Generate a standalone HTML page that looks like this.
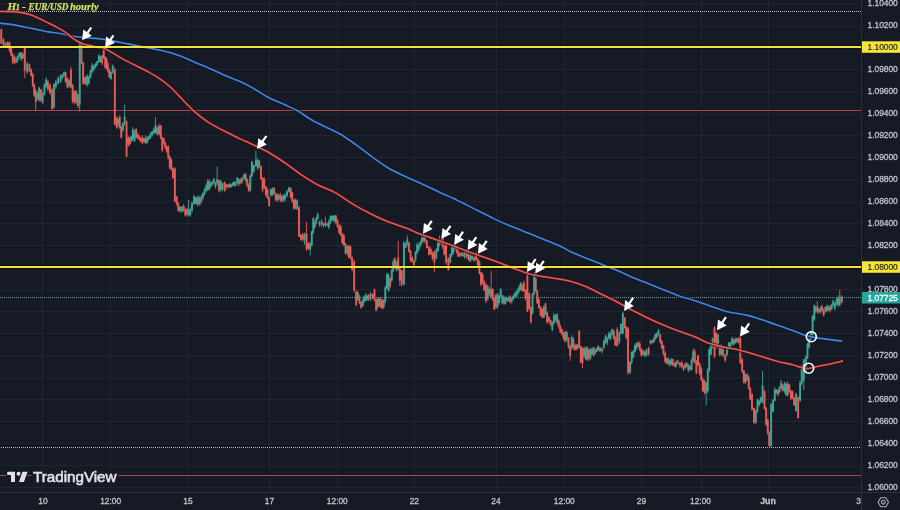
<!DOCTYPE html><html><head><meta charset="utf-8"><style>
html,body{margin:0;padding:0;background:#161a25;width:900px;height:510px;overflow:hidden}
svg{display:block;filter:blur(0.3px)}
.ax{font-family:"Liberation Sans",Arial,sans-serif;font-size:8.4px;fill:#c0c3cb;stroke:#c0c3cb;stroke-width:0.3px}
</style></head><body>
<svg width="900" height="510" viewBox="0 0 900 510">
<rect x="0" y="0" width="900" height="510" fill="#161a25"/>
<path d="M0 3.5H861 M0 25.5H861 M0 47.5H861 M0 69.5H861 M0 91.5H861 M0 113.5H861 M0 135.5H861 M0 157.5H861 M0 179.5H861 M0 201.5H861 M0 223.5H861 M0 245.5H861 M0 267.5H861 M0 289.5H861 M0 311.5H861 M0 333.5H861 M0 355.5H861 M0 377.5H861 M0 399.5H861 M0 421.5H861 M0 443.5H861 M0 465.5H861 M0 487.5H861 M42.5 0V492 M110.5 0V492 M187.5 0V492 M269.5 0V492 M337.5 0V492 M414.5 0V492 M496.5 0V492 M564.5 0V492 M641.5 0V492 M701.5 0V492 M768.5 0V492" stroke="#21252f" stroke-width="1" fill="none"/>
<path d="M0 47H861 M0 267H861" stroke="#08080a" stroke-width="4.6" fill="none" opacity="0.6"/>
<path d="M0 110.5H861 M0 475.5H861" stroke="#2a0e16" stroke-width="3" fill="none" opacity="0.6"/>
<path d="M0 110.5H861" stroke="#9e4858" stroke-width="1" fill="none"/>
<path d="M0 475.5H861" stroke="#8a5262" stroke-width="1" fill="none"/>
<path d="M0 11.5H861" stroke="#b8bac8" stroke-width="1" stroke-dasharray="1 1" fill="none"/>
<path d="M0 447.5H861" stroke="#b8bac8" stroke-width="1" stroke-dasharray="1 1" stroke-dashoffset="1" fill="none"/>
<path d="M0 297.5H861" stroke="#6a9994" stroke-width="1" stroke-dasharray="1 1" fill="none"/>
<path d="M1.25 28.5V44.2 M3.50 38.0V46.0 M7.50 41.4V46.7 M9.50 41.4V52.3 M11.25 46.9V56.3 M12.75 53.0V64.5 M14.75 55.5V64.2 M22.75 52.4V58.8 M24.75 46.0V78.0 M29.38 63.6V71.9 M31.12 68.3V76.4 M32.75 72.7V87.1 M34.25 83.7V96.9 M35.75 89.0V111.0 M40.90 89.0V102.0 M47.90 80.1V90.7 M50.00 83.3V95.1 M52.10 88.3V110.0 M65.60 71.6V83.2 M67.35 77.4V88.1 M70.90 66.8V88.5 M72.65 83.8V103.4 M74.40 90.3V104.4 M77.90 93.5V108.0 M81.45 41.5V64.1 M83.15 61.6V84.7 M85.00 76.6V85.0 M102.17 54.8V65.2 M103.75 47.0V58.7 M105.25 56.2V68.5 M106.50 57.5V69.1 M107.75 61.3V72.6 M109.25 68.4V78.2 M114.80 67.7V125.2 M116.75 116.2V128.6 M119.75 115.1V129.3 M121.25 125.9V138.5 M126.55 120.5V157.3 M128.33 135.9V146.8 M129.80 137.0V145.5 M136.17 128.2V138.3 M137.77 133.0V139.4 M139.30 134.7V140.7 M140.83 137.0V143.3 M142.40 135.1V144.1 M144.00 137.8V143.7 M159.10 123.8V135.4 M160.75 124.7V139.4 M162.25 136.7V151.9 M163.75 137.7V144.6 M165.25 141.9V149.4 M166.75 145.5V152.7 M168.25 145.1V159.4 M169.75 155.4V169.5 M171.30 158.2V170.6 M172.90 167.0V178.4 M174.85 167.4V202.2 M176.75 196.1V205.8 M178.25 202.3V211.7 M183.58 204.3V211.7 M185.31 207.3V216.6 M186.94 208.1V216.2 M199.67 195.8V205.4 M207.75 179.3V191.2 M218.88 179.6V192.6 M224.73 181.5V191.7 M226.58 184.1V188.5 M228.12 184.0V188.7 M235.75 181.8V186.5 M240.25 178.1V184.4 M245.75 172.9V182.6 M247.25 178.5V187.3 M248.75 182.9V192.0 M259.25 159.9V167.9 M260.88 165.4V180.0 M262.62 177.0V192.5 M264.30 177.0V188.9 M265.90 185.8V197.1 M267.52 188.6V199.2 M269.18 196.8V206.9 M274.17 187.1V194.8 M275.77 192.5V201.2 M277.30 193.5V201.7 M280.33 192.7V202.2 M281.80 195.5V202.0 M290.75 187.5V198.5 M292.30 191.9V202.8 M293.90 198.7V210.0 M295.52 198.5V209.1 M299.00 206.0V237.0 M300.92 234.1V240.7 M302.75 232.9V241.7 M306.55 222.0V250.9 M308.45 242.2V249.7 M319.47 220.4V226.7 M323.58 222.6V227.3 M325.35 216.6V227.0 M335.80 214.9V224.3 M337.52 218.7V227.6 M339.18 224.0V234.1 M340.75 224.6V236.1 M342.25 233.2V244.1 M343.85 233.4V246.4 M345.55 243.0V254.6 M348.80 245.0V258.3 M350.45 245.2V259.2 M352.15 256.5V271.5 M354.20 259.6V292.3 M356.20 289.8V306.4 M359.45 294.8V304.3 M361.15 301.0V308.7 M368.67 294.2V301.2 M372.62 293.1V299.1 M374.52 288.5V301.1 M376.18 298.7V311.3 M377.75 297.4V308.5 M380.75 297.1V307.9 M382.25 299.0V309.4 M390.18 277.5V288.5 M394.85 257.1V268.8 M398.20 241.0V270.8 M399.80 268.0V286.0 M401.70 269.7V286.5 M408.85 241.9V252.5 M410.55 249.7V261.9 M412.22 256.4V262.6 M413.88 259.4V268.0 M424.98 235.8V243.4 M426.85 239.7V248.5 M428.95 246.0V255.6 M430.82 247.4V255.0 M432.48 251.5V260.2 M434.40 250.2V272.0 M441.18 238.9V244.4 M442.75 236.7V248.9 M444.25 245.2V255.6 M446.15 243.7V264.6 M448.40 257.3V270.6 M456.75 245.8V254.0 M458.25 249.3V257.0 M459.75 252.6V257.1 M461.25 252.0V256.6 M466.73 250.6V258.9 M468.60 252.3V260.7 M474.23 256.2V261.8 M476.12 251.3V261.1 M477.78 257.9V266.7 M479.40 260.6V274.4 M481.00 272.1V286.2 M482.60 272.5V284.5 M484.20 280.0V290.9 M485.90 282.7V303.1 M491.15 271.0V298.0 M492.75 288.2V300.8 M494.25 297.1V310.0 M495.82 294.1V308.3 M505.25 296.6V304.8 M510.17 294.9V303.3 M522.25 284.0V291.8 M523.83 280.6V292.2 M525.47 289.2V300.2 M527.40 272.0V312.1 M529.30 292.1V310.0 M530.90 306.7V323.5 M535.75 277.0V292.0 M537.25 289.8V304.0 M538.85 297.9V308.7 M540.55 306.1V316.2 M542.23 308.3V318.2 M545.53 302.8V315.1 M547.17 311.4V323.4 M548.88 316.2V323.3 M550.62 319.4V325.9 M555.53 313.8V321.5 M558.75 319.4V328.8 M560.25 324.7V332.9 M561.85 328.7V335.6 M563.55 331.8V340.4 M565.20 330.9V342.4 M568.45 336.9V348.4 M570.15 344.4V360.8 M573.25 336.8V348.5 M574.73 343.3V350.6 M576.20 343.7V350.6 M579.20 329.9V348.4 M580.80 345.7V363.3 M582.45 347.4V368.0 M587.25 346.0V361.1 M588.83 348.8V360.6 M593.77 346.8V356.7 M600.00 346.7V352.2 M613.75 329.5V339.4 M615.25 335.8V346.1 M617.25 327.1V346.7 M624.75 317.0V328.7 M626.25 326.3V339.5 M628.10 326.9V375.0 M638.17 341.2V347.6 M639.75 341.4V351.2 M641.25 347.8V356.8 M642.85 349.3V355.6 M648.62 346.6V355.6 M652.17 340.1V343.6 M660.20 333.9V344.0 M661.80 340.2V349.2 M663.45 344.9V355.5 M665.15 351.1V363.2 M666.75 357.7V364.8 M672.67 358.6V366.3 M674.23 362.3V367.2 M677.78 359.6V364.6 M679.92 362.2V367.8 M681.83 360.8V368.1 M683.47 365.1V371.3 M686.70 362.1V367.5 M689.97 364.8V370.6 M694.80 349.2V363.6 M696.40 360.0V373.9 M698.03 354.7V365.8 M699.67 362.3V375.5 M701.30 366.8V381.2 M702.90 377.4V392.0 M704.53 379.5V394.3 M714.50 326.0V358.4 M716.40 332.4V348.6 M719.60 346.0V356.3 M723.08 347.3V357.2 M725.22 353.8V362.4 M735.20 337.2V343.9 M738.47 337.1V343.5 M740.35 336.3V364.3 M742.20 357.7V373.0 M743.80 370.0V383.6 M745.45 373.4V383.9 M748.75 375.3V389.5 M750.25 387.4V400.2 M752.00 392.8V411.1 M754.00 407.6V423.7 M764.53 389.9V409.7 M766.17 406.9V426.0 M767.75 419.0V435.0 M769.25 430.7V446.7 M778.00 389.0V396.5 M782.83 384.2V391.7 M787.70 381.7V396.1 M789.30 383.8V392.9 M790.90 389.4V400.3 M792.53 390.5V399.3 M794.17 396.8V406.1 M798.15 396.5V418.7 M817.25 301.5V313.4 M818.83 307.6V313.9 M822.10 304.8V312.8 M823.70 308.4V316.6 M825.30 306.3V312.4 M830.17 304.9V312.6 M839.80 289.7V306.4" stroke="#e65c56" stroke-width="0.9" fill="none"/>
<path d="M5.50 42.3V47.3 M16.75 56.4V63.0 M18.25 53.6V60.4 M19.75 51.9V57.1 M21.25 52.1V61.0 M27.25 61.9V73.6 M37.25 91.9V100.2 M39.00 86.8V101.7 M42.65 91.8V103.9 M44.40 83.2V95.4 M46.15 77.4V87.9 M53.85 83.4V108.9 M55.85 80.0V89.4 M58.20 76.2V84.4 M60.60 74.4V83.0 M62.52 74.1V79.1 M63.98 71.4V76.1 M69.10 79.4V88.0 M76.15 90.1V103.6 M79.70 41.0V111.5 M87.00 74.0V86.8 M88.83 75.4V84.9 M90.50 69.4V78.2 M92.17 63.2V73.6 M93.83 64.3V71.3 M95.50 62.8V68.2 M97.17 60.9V66.3 M98.83 54.4V62.9 M100.50 55.8V62.8 M110.90 71.3V79.8 M112.70 64.5V73.7 M118.25 118.1V126.6 M122.88 122.3V132.2 M124.62 104.6V125.7 M131.27 135.7V142.6 M132.83 127.1V140.9 M134.50 130.1V142.1 M145.60 135.5V143.8 M147.20 136.1V143.7 M148.82 135.6V140.2 M150.47 132.1V139.0 M152.12 131.1V136.8 M153.78 127.4V134.3 M155.50 117.5V133.8 M157.30 126.3V135.7 M179.92 206.1V212.4 M181.75 206.1V213.0 M188.56 200.0V216.7 M190.19 207.6V216.6 M192.00 201.6V212.5 M194.00 194.7V204.6 M195.93 196.7V204.7 M197.80 195.4V206.5 M201.40 194.8V203.5 M203.00 192.2V199.8 M204.60 188.2V195.2 M206.20 183.4V192.1 M209.25 179.1V190.1 M210.77 182.2V187.6 M212.30 181.1V185.5 M213.83 178.0V183.8 M215.45 181.8V188.6 M217.15 166.6V185.4 M220.62 179.8V192.1 M222.57 182.5V191.2 M229.68 182.8V187.9 M231.22 183.6V187.6 M232.75 182.0V186.4 M234.25 180.8V186.5 M237.25 177.2V183.4 M238.75 178.5V185.9 M242.00 176.6V184.0 M244.00 173.4V180.1 M250.30 174.4V191.5 M251.90 161.0V177.1 M253.77 164.5V173.2 M255.93 150.5V166.7 M257.75 158.3V170.1 M270.83 188.7V196.8 M272.50 187.4V195.9 M278.83 193.7V200.1 M283.27 193.9V202.5 M285.00 193.4V201.4 M287.00 189.6V197.4 M289.00 186.7V192.6 M297.18 199.3V210.3 M304.58 232.5V244.6 M310.15 241.9V255.4 M311.75 231.0V246.4 M313.25 217.0V234.1 M314.73 220.8V228.4 M316.20 216.9V224.5 M317.67 212.8V219.8 M321.62 219.1V227.2 M327.12 222.1V226.5 M328.82 219.4V229.1 M330.48 215.3V224.2 M332.20 215.4V221.4 M334.00 215.1V222.0 M347.20 245.2V255.2 M357.80 290.7V300.9 M362.75 298.8V306.6 M364.25 295.3V302.7 M365.73 293.2V301.4 M367.20 294.7V300.6 M370.47 292.0V300.9 M379.25 297.4V307.0 M383.75 298.9V308.4 M385.30 285.5V303.3 M386.90 272.6V288.9 M388.52 273.2V292.1 M391.75 268.5V282.0 M393.25 259.4V272.1 M396.55 260.7V271.5 M403.90 241.0V285.4 M405.75 242.4V248.3 M407.25 235.5V245.6 M415.52 251.1V261.7 M417.18 242.5V254.5 M418.75 243.5V251.2 M420.25 241.0V247.2 M421.75 236.2V244.4 M423.32 234.4V242.4 M436.30 248.0V259.4 M437.90 240.7V251.8 M439.52 235.5V246.6 M450.30 253.5V263.6 M451.90 244.6V256.9 M453.52 246.2V254.2 M455.18 242.5V249.8 M462.75 252.0V256.5 M464.57 250.5V258.8 M470.20 253.2V262.0 M472.07 254.0V260.3 M487.70 284.7V300.6 M489.45 287.4V296.0 M497.48 293.1V308.8 M499.10 293.6V305.1 M500.70 288.2V297.1 M502.25 294.6V304.4 M503.75 295.2V304.5 M506.83 296.4V302.0 M508.50 296.8V301.6 M511.75 297.1V303.6 M513.25 294.6V300.0 M514.75 291.7V298.3 M516.25 290.4V297.1 M517.75 288.3V295.3 M519.25 284.7V292.5 M520.75 282.0V290.6 M532.53 292.6V314.2 M534.17 272.0V295.7 M543.88 305.1V318.2 M552.30 321.1V331.2 M553.90 313.2V325.2 M557.17 313.3V324.6 M566.80 330.9V341.9 M571.75 335.1V350.0 M577.67 344.1V349.7 M584.15 346.3V357.5 M585.75 346.8V360.3 M590.47 347.8V359.8 M592.12 347.4V355.2 M595.33 349.2V354.0 M596.80 347.0V352.0 M598.27 344.9V351.2 M602.00 347.0V353.4 M603.85 339.4V349.3 M605.55 334.8V344.1 M607.23 336.5V345.0 M608.88 331.5V339.4 M610.53 331.6V340.5 M612.17 328.6V335.3 M619.30 331.3V344.2 M620.90 323.2V334.4 M622.85 311.5V334.4 M630.03 361.1V374.2 M631.67 351.4V364.1 M633.30 349.5V358.5 M634.90 343.6V353.3 M636.53 342.3V349.9 M644.55 350.4V357.3 M646.48 348.8V356.4 M650.53 339.7V344.7 M653.75 337.3V343.2 M655.25 333.7V340.2 M656.85 332.1V338.2 M658.55 329.0V335.7 M668.25 357.1V364.7 M669.73 360.2V366.8 M671.20 357.9V365.3 M675.88 360.3V367.6 M685.10 362.4V369.1 M688.33 363.8V372.4 M691.60 358.1V370.8 M693.20 348.5V362.3 M706.17 381.7V405.6 M707.75 368.0V392.9 M709.25 348.0V372.2 M710.85 344.5V355.4 M712.55 337.5V348.4 M718.00 334.1V348.0 M721.20 344.1V356.3 M727.12 346.0V356.5 M728.77 341.9V349.7 M730.40 342.0V348.4 M732.00 336.5V345.4 M733.60 338.6V345.6 M736.83 337.8V342.9 M747.15 372.9V380.9 M755.83 409.3V424.3 M757.47 398.8V412.7 M759.10 399.8V406.9 M760.70 396.7V403.8 M762.60 371.0V403.3 M771.15 402.6V447.1 M773.12 398.7V412.6 M774.77 387.2V401.3 M776.40 389.2V394.0 M779.60 386.1V393.4 M781.20 380.0V389.5 M784.47 381.8V393.0 M786.10 382.1V396.5 M796.00 392.6V411.8 M800.10 380.4V402.1 M801.70 364.9V385.5 M803.75 359.4V390.0 M805.83 355.0V372.8 M807.47 342.6V359.2 M809.10 338.0V348.8 M810.70 330.6V340.5 M812.60 315.0V337.0 M814.35 304.4V321.2 M815.75 306.0V312.7 M820.47 306.2V313.7 M826.90 304.4V312.5 M828.53 305.3V311.4 M831.75 303.5V310.0 M833.25 299.3V306.3 M834.85 302.0V310.6 M836.55 298.4V305.5 M838.20 295.4V306.7 M841.80 295.2V303.5" stroke="#3ea595" stroke-width="0.9" fill="none"/>
<path d="M1.25 29.6V43.4 M3.50 39.6V45.4 M7.50 42.1V46.0 M9.50 42.6V50.4 M11.25 47.6V55.4 M12.75 54.6V62.4 M14.75 57.0V63.0 M22.75 53.8V58.2 M24.75 46.6V70.4 M29.38 64.6V70.4 M31.12 69.6V75.4 M32.75 74.6V85.4 M34.25 84.6V95.4 M35.75 90.8V102.3 M40.90 89.6V100.4 M47.90 81.6V89.4 M50.00 85.2V93.0 M52.10 89.6V108.4 M65.60 72.2V81.4 M67.35 78.1V87.2 M70.90 69.6V87.2 M72.65 85.2V101.4 M74.40 92.2V102.4 M77.90 94.6V106.0 M81.45 42.3V63.2 M83.15 62.5V83.4 M85.00 77.1V83.8 M102.17 55.4V63.2 M103.75 47.6V57.9 M105.25 57.1V67.4 M106.50 58.6V68.4 M107.75 63.2V70.5 M109.25 69.6V76.9 M114.80 69.6V124.4 M116.75 117.6V127.8 M119.75 117.1V127.7 M121.25 126.8V137.4 M126.55 121.6V156.4 M128.33 137.8V144.9 M129.80 137.9V144.1 M136.17 129.0V137.5 M137.77 134.6V137.4 M139.30 136.6V139.4 M140.83 138.6V141.4 M142.40 137.2V142.3 M144.00 138.6V141.9 M159.10 125.7V134.5 M160.75 125.6V138.4 M162.25 137.6V150.4 M163.75 138.6V143.4 M165.25 142.6V147.4 M166.75 146.6V151.4 M168.25 146.6V157.4 M169.75 156.6V167.4 M171.30 159.6V169.2 M172.90 168.3V177.9 M174.85 168.6V201.4 M176.75 196.6V203.9 M178.25 203.1V210.4 M183.58 206.1V210.4 M185.31 209.3V215.3 M186.94 209.5V214.6 M199.67 197.5V204.7 M207.75 180.7V190.1 M218.88 180.2V190.7 M224.73 182.2V191.1 M226.58 184.7V186.4 M228.12 184.7V186.8 M235.75 183.1V185.7 M240.25 179.9V183.2 M245.75 174.6V180.4 M247.25 179.6V185.4 M248.75 184.6V190.4 M259.25 160.9V166.6 M260.88 166.2V178.7 M262.62 177.9V190.4 M264.30 179.2V187.5 M265.90 186.7V195.0 M267.52 189.6V198.1 M269.18 197.3V205.8 M274.17 188.1V193.9 M275.77 194.2V199.6 M277.30 194.6V200.6 M280.33 194.7V200.6 M281.80 196.2V200.6 M290.75 188.2V197.4 M292.30 192.6V200.9 M293.90 200.1V208.4 M295.52 199.8V208.5 M299.00 207.6V236.4 M300.92 234.7V239.8 M302.75 234.7V239.6 M306.55 233.6V249.4 M308.45 242.9V248.8 M319.47 222.6V224.6 M323.58 223.5V225.2 M325.35 223.2V225.6 M335.80 215.4V222.5 M337.52 220.6V226.9 M339.18 226.1V232.4 M340.75 226.6V235.2 M342.25 234.3V242.9 M343.85 235.6V244.9 M345.55 244.1V253.4 M348.80 245.9V257.3 M350.45 246.6V258.4 M352.15 257.6V269.4 M354.20 261.6V290.4 M356.20 291.9V305.0 M359.45 296.6V302.8 M361.15 302.0V308.1 M368.67 295.1V299.2 M372.62 293.9V298.5 M374.52 289.6V300.4 M376.18 299.6V310.4 M377.75 299.1V307.3 M380.75 299.2V307.2 M382.25 300.9V308.6 M390.18 278.6V286.4 M394.85 258.5V267.2 M398.20 257.6V269.4 M399.80 268.6V280.4 M401.70 270.6V284.4 M408.85 242.6V251.9 M410.55 251.1V260.4 M412.22 257.6V261.7 M413.88 260.9V265.0 M424.98 237.5V241.3 M426.85 240.6V247.9 M428.95 247.1V254.4 M430.82 249.1V254.2 M432.48 253.3V258.4 M434.40 251.6V262.4 M441.18 239.8V243.2 M442.75 238.3V246.8 M444.25 245.9V254.4 M446.15 244.6V262.4 M448.40 258.0V270.0 M456.75 246.6V251.9 M458.25 251.1V256.4 M459.75 253.7V256.1 M461.25 253.0V255.5 M466.73 251.7V256.8 M468.60 254.4V260.2 M474.23 257.3V260.8 M476.12 253.4V259.6 M477.78 258.8V265.0 M479.40 261.6V273.4 M481.00 272.6V284.4 M482.60 274.6V282.9 M484.20 282.1V290.4 M485.90 284.8V301.0 M491.15 288.7V297.0 M492.75 289.2V299.7 M494.25 298.9V309.4 M495.82 295.0V307.7 M505.25 298.3V304.1 M510.17 296.3V302.2 M522.25 286.1V290.7 M523.83 282.6V290.9 M525.47 290.1V298.4 M527.40 274.6V311.4 M529.30 293.6V308.4 M530.90 307.6V322.4 M535.75 278.6V291.1 M537.25 290.4V302.9 M538.85 299.6V307.9 M540.55 307.1V315.4 M542.23 308.9V317.6 M545.53 303.6V313.4 M547.17 312.6V322.4 M548.88 317.2V321.2 M550.62 320.4V324.4 M555.53 315.6V320.6 M558.75 320.6V326.8 M560.25 326.0V332.1 M561.85 329.2V334.2 M563.55 333.4V338.4 M565.20 332.0V341.1 M568.45 337.6V347.1 M570.15 346.3V355.8 M573.25 338.9V347.4 M574.73 345.2V349.9 M576.20 344.8V348.7 M579.20 331.3V347.2 M580.80 346.5V362.4 M582.45 348.0V363.2 M587.25 347.2V359.5 M588.83 349.3V359.1 M593.77 347.5V355.5 M600.00 348.1V351.0 M613.75 331.3V338.6 M615.25 337.8V345.1 M617.25 329.0V346.0 M624.75 317.6V327.9 M626.25 327.1V337.4 M628.10 328.6V372.4 M638.17 343.1V346.7 M639.75 343.6V349.7 M641.25 348.9V355.0 M642.85 351.1V355.0 M648.62 348.1V354.3 M652.17 340.6V342.5 M660.20 334.6V341.9 M661.80 341.1V348.4 M663.45 345.6V353.9 M665.15 353.1V361.4 M666.75 358.2V363.2 M672.67 359.1V364.9 M674.23 363.2V365.6 M677.78 360.6V363.6 M679.92 362.8V365.8 M681.83 362.6V366.4 M683.47 365.6V369.4 M686.70 363.0V367.0 M689.97 366.3V369.4 M694.80 351.3V362.8 M696.40 362.0V373.4 M698.03 355.6V364.9 M699.67 364.1V373.4 M701.30 368.6V380.1 M702.90 379.4V390.9 M704.53 381.1V392.6 M714.50 327.6V356.4 M716.40 333.1V346.5 M719.60 347.7V354.6 M723.08 349.2V355.2 M725.22 354.4V360.4 M735.20 339.0V343.0 M738.47 338.2V342.5 M740.35 338.4V362.9 M742.20 359.6V371.4 M743.80 370.6V382.4 M745.45 374.5V382.2 M748.75 377.2V388.7 M750.25 387.9V399.4 M752.00 394.6V408.9 M754.00 408.1V422.4 M764.53 391.6V408.4 M766.17 407.6V424.4 M767.75 419.6V433.2 M769.25 432.4V446.0 M778.00 390.1V394.5 M782.83 385.3V390.6 M787.70 383.7V395.2 M789.30 384.6V391.9 M790.90 391.1V398.4 M792.53 391.3V398.5 M794.17 397.8V405.0 M798.15 397.6V418.0 M817.25 306.3V311.6 M818.83 309.0V312.1 M822.10 306.6V311.1 M823.70 310.4V314.9 M825.30 307.3V310.9 M830.17 306.5V310.6 M839.80 297.3V304.7" stroke="#e65c56" stroke-width="1.9" fill="none"/>
<path d="M5.50 42.9V45.9 M16.75 58.6V62.4 M18.25 55.6V59.4 M19.75 52.6V56.4 M21.25 52.9V59.5 M27.25 63.6V72.4 M37.25 93.1V98.4 M39.00 87.6V100.4 M42.65 93.6V102.4 M44.40 85.2V94.4 M46.15 79.6V86.4 M53.85 84.0V107.2 M55.85 81.6V87.2 M58.20 78.1V83.4 M60.60 75.6V81.4 M62.52 74.6V77.8 M63.98 72.2V75.4 M69.10 80.6V86.0 M76.15 91.1V102.4 M79.70 41.6V104.8 M87.00 76.1V85.1 M88.83 76.8V83.4 M90.50 71.0V77.6 M92.17 65.2V71.8 M93.83 66.3V69.4 M95.50 63.9V67.1 M97.17 61.6V64.7 M98.83 55.2V62.1 M100.50 56.3V62.1 M110.90 71.9V79.1 M112.70 65.6V72.8 M118.25 119.5V124.4 M122.88 123.1V130.4 M124.62 116.6V123.9 M131.27 136.2V141.6 M132.83 129.2V139.6 M134.50 132.3V140.9 M145.60 137.7V142.6 M147.20 137.8V142.9 M148.82 136.3V139.4 M150.47 134.1V137.2 M152.12 131.8V134.9 M153.78 129.6V132.7 M155.50 125.3V133.3 M157.30 127.7V133.7 M179.92 207.1V211.0 M181.75 206.8V211.5 M188.56 209.0V214.6 M190.19 209.7V215.6 M192.00 203.1V210.4 M194.00 196.6V203.9 M195.93 197.4V203.8 M197.80 197.2V204.5 M201.40 196.8V201.4 M203.00 193.1V197.7 M204.60 189.3V193.9 M206.20 185.6V190.2 M209.25 180.9V189.6 M210.77 183.6V186.4 M212.30 181.6V184.4 M213.83 179.6V182.4 M215.45 182.4V186.4 M217.15 179.2V183.2 M220.62 181.0V190.0 M222.57 183.3V189.2 M229.68 184.1V186.9 M231.22 184.6V186.9 M232.75 182.7V185.6 M234.25 181.8V185.5 M237.25 178.1V182.9 M238.75 179.3V184.6 M242.00 177.9V182.1 M244.00 174.6V178.8 M250.30 175.6V190.4 M251.90 161.6V176.4 M253.77 165.1V171.4 M255.93 159.6V165.9 M257.75 160.3V168.5 M270.83 189.5V195.4 M272.50 188.0V194.7 M278.83 195.4V198.5 M283.27 195.7V200.6 M285.00 194.9V199.4 M287.00 191.3V195.7 M289.00 187.6V192.1 M297.18 200.6V208.9 M304.58 233.8V240.2 M310.15 243.4V249.8 M311.75 231.6V245.4 M313.25 218.6V232.4 M314.73 222.4V227.4 M316.20 218.3V223.2 M317.67 214.1V219.1 M321.62 221.0V225.1 M327.12 224.0V225.1 M328.82 221.4V227.4 M330.48 216.2V222.2 M332.20 215.9V220.1 M334.00 215.8V220.9 M347.20 245.9V253.3 M357.80 292.4V299.7 M362.75 300.9V305.9 M364.25 296.6V301.6 M365.73 295.4V300.4 M367.20 296.1V299.5 M370.47 294.1V298.7 M379.25 298.5V305.9 M383.75 300.0V307.1 M385.30 287.6V301.4 M386.90 274.6V288.4 M388.52 275.2V290.8 M391.75 270.4V280.0 M393.25 261.6V271.2 M396.55 262.3V269.7 M403.90 242.6V284.4 M405.75 243.1V247.4 M407.25 239.6V243.9 M415.52 252.1V260.4 M417.18 244.6V252.9 M418.75 245.5V249.9 M420.25 241.9V246.3 M421.75 238.3V242.7 M423.32 237.2V240.8 M436.30 250.1V258.4 M437.90 242.6V250.9 M439.52 239.2V244.5 M450.30 254.1V262.4 M451.90 246.6V254.9 M453.52 247.9V252.0 M455.18 244.6V248.7 M462.75 254.1V255.7 M464.57 252.4V257.6 M470.20 255.0V261.5 M472.07 256.1V259.4 M487.70 286.0V299.2 M489.45 289.2V294.3 M497.48 294.2V306.7 M499.10 295.7V302.9 M500.70 289.2V296.4 M502.25 296.3V303.1 M503.75 296.7V302.8 M506.83 297.9V300.9 M508.50 297.7V300.7 M511.75 298.3V301.4 M513.25 295.9V299.1 M514.75 293.6V296.7 M516.25 292.6V296.4 M517.75 289.6V293.4 M519.25 286.6V290.4 M520.75 283.1V289.8 M532.53 293.4V313.4 M534.17 274.1V294.1 M543.88 306.7V317.6 M552.30 322.2V330.0 M553.90 315.2V323.0 M557.17 314.5V322.7 M566.80 332.3V339.8 M571.75 337.2V347.8 M577.67 345.0V348.6 M584.15 348.2V356.8 M585.75 348.3V359.3 M590.47 349.6V358.0 M592.12 348.7V354.6 M595.33 350.6V353.4 M596.80 348.6V351.4 M598.27 346.6V349.4 M602.00 349.0V351.2 M603.85 341.1V347.4 M605.55 335.6V341.9 M607.23 337.9V342.9 M608.88 333.6V338.6 M610.53 333.4V338.4 M612.17 329.2V334.2 M619.30 332.7V342.1 M620.90 324.1V333.5 M622.85 313.3V333.4 M630.03 361.9V372.4 M631.67 352.1V362.6 M633.30 351.1V357.4 M634.90 345.6V351.9 M636.53 343.0V347.7 M644.55 352.0V355.2 M646.48 349.8V355.9 M650.53 340.4V343.8 M653.75 338.0V342.1 M655.25 334.6V338.8 M656.85 333.6V337.4 M658.55 330.6V334.4 M668.25 358.7V363.5 M669.73 361.1V364.8 M671.20 359.1V364.4 M675.88 362.2V366.8 M685.10 364.2V367.8 M688.33 365.4V370.4 M691.60 360.0V369.4 M693.20 351.3V360.8 M706.17 383.0V392.9 M707.75 369.7V390.9 M709.25 349.2V370.4 M710.85 346.0V354.4 M712.55 338.4V346.8 M718.00 334.7V347.4 M721.20 345.3V354.4 M727.12 348.1V354.4 M728.77 342.6V348.9 M730.40 342.7V347.8 M732.00 338.4V343.5 M733.60 340.2V344.6 M736.83 338.3V341.9 M747.15 374.9V380.3 M755.83 410.6V422.4 M757.47 399.6V411.4 M759.10 400.9V405.0 M760.70 397.6V401.7 M762.60 385.6V402.4 M771.15 404.2V446.0 M773.12 399.9V411.4 M774.77 389.2V400.7 M776.40 390.1V393.1 M779.60 387.0V392.1 M781.20 382.6V387.8 M784.47 383.5V391.2 M786.10 383.9V395.1 M796.00 394.0V411.0 M800.10 382.6V400.4 M801.70 365.6V383.4 M803.75 359.3V380.4 M805.83 357.2V370.9 M807.47 344.3V358.0 M809.10 338.9V347.2 M810.70 331.3V339.6 M812.60 316.2V336.4 M814.35 305.6V319.4 M815.75 307.6V311.4 M820.47 307.9V311.7 M826.90 306.2V310.8 M828.53 306.5V310.2 M831.75 304.4V308.4 M833.25 301.1V305.1 M834.85 303.3V308.4 M836.55 299.0V304.1 M838.20 297.5V305.3 M841.80 296.6V301.9" stroke="#3ea595" stroke-width="1.9" fill="none"/>
<path d="M0.0 23.1 C2.0 23.4 8.1 24.0 12.2 24.6 C16.3 25.2 20.3 26.2 24.4 27.0 C28.5 27.8 32.6 28.6 36.7 29.4 C40.8 30.2 44.8 31.2 48.9 31.9 C53.0 32.6 57.0 33.0 61.1 33.7 C65.2 34.4 69.2 35.5 73.3 36.2 C77.4 36.9 81.5 37.4 85.6 37.8 C89.7 38.2 93.4 38.1 97.8 38.6 C102.2 39.1 107.5 39.9 111.8 40.6 C116.1 41.3 119.6 42.2 123.5 43.0 C127.4 43.8 131.4 44.5 135.3 45.3 C139.2 46.1 143.1 46.8 147.0 47.6 C150.9 48.4 155.0 49.2 158.8 50.0 C162.6 50.8 166.2 51.3 170.0 52.4 C173.8 53.5 177.9 54.9 181.8 56.5 C185.7 58.1 189.6 60.1 193.5 61.8 C197.4 63.5 201.4 64.8 205.3 66.5 C209.2 68.2 213.1 70.0 217.0 71.8 C220.9 73.5 224.9 75.3 228.8 77.0 C232.7 78.7 236.2 79.7 240.6 81.8 C245.0 83.9 250.8 87.0 255.3 89.5 C259.8 92.0 262.6 94.4 267.6 97.0 C272.6 99.6 280.3 102.7 285.3 105.0 C290.3 107.3 293.2 108.3 297.6 110.8 C302.0 113.3 306.5 117.0 311.8 120.0 C317.1 123.0 324.4 126.3 329.4 128.8 C334.4 131.3 337.4 132.3 341.8 135.0 C346.2 137.7 350.6 140.9 355.9 144.7 C361.2 148.5 368.1 154.0 373.5 157.9 C378.9 161.8 382.8 164.8 388.2 168.0 C393.6 171.2 400.0 174.0 405.9 176.8 C411.8 179.6 417.8 182.1 423.5 184.7 C429.2 187.3 435.0 190.1 440.0 192.4 C445.0 194.7 449.1 196.3 453.7 198.5 C458.3 200.7 462.9 203.1 467.5 205.4 C472.1 207.7 476.6 210.0 481.2 212.3 C485.8 214.6 490.3 216.9 494.9 219.1 C499.5 221.3 504.1 223.4 508.7 225.3 C513.3 227.2 517.8 229.0 522.4 230.8 C527.0 232.6 531.5 234.5 536.1 236.3 C540.7 238.1 545.8 240.2 549.8 241.8 C553.8 243.4 556.4 244.3 560.0 246.0 C563.6 247.7 566.8 249.9 571.3 252.0 C575.8 254.1 581.8 256.3 587.0 258.4 C592.2 260.5 597.5 262.6 602.7 264.7 C607.9 266.8 613.2 268.8 618.4 271.0 C623.6 273.2 629.1 275.9 634.0 278.0 C638.9 280.1 643.2 281.6 648.0 283.5 C652.8 285.4 657.7 287.4 662.8 289.4 C667.9 291.4 673.3 293.9 678.5 295.7 C683.7 297.5 689.0 298.7 694.2 300.4 C699.4 302.1 704.7 304.1 709.9 305.9 C715.1 307.7 719.6 309.7 725.6 311.2 C731.6 312.7 739.7 313.5 745.7 314.9 C751.7 316.3 756.2 317.9 761.4 319.6 C766.6 321.3 771.8 323.3 777.0 325.1 C782.2 326.9 788.0 328.9 792.7 330.6 C797.4 332.3 802.1 334.2 805.3 335.3 C808.4 336.4 808.5 336.3 811.6 336.9 C814.7 337.5 819.0 338.2 824.1 338.9 C829.2 339.6 839.2 340.7 842.2 341.1" stroke="#0c1836" stroke-width="3.8" fill="none" stroke-linejoin="round" opacity="0.7"/>
<path d="M0.0 23.1 C2.0 23.4 8.1 24.0 12.2 24.6 C16.3 25.2 20.3 26.2 24.4 27.0 C28.5 27.8 32.6 28.6 36.7 29.4 C40.8 30.2 44.8 31.2 48.9 31.9 C53.0 32.6 57.0 33.0 61.1 33.7 C65.2 34.4 69.2 35.5 73.3 36.2 C77.4 36.9 81.5 37.4 85.6 37.8 C89.7 38.2 93.4 38.1 97.8 38.6 C102.2 39.1 107.5 39.9 111.8 40.6 C116.1 41.3 119.6 42.2 123.5 43.0 C127.4 43.8 131.4 44.5 135.3 45.3 C139.2 46.1 143.1 46.8 147.0 47.6 C150.9 48.4 155.0 49.2 158.8 50.0 C162.6 50.8 166.2 51.3 170.0 52.4 C173.8 53.5 177.9 54.9 181.8 56.5 C185.7 58.1 189.6 60.1 193.5 61.8 C197.4 63.5 201.4 64.8 205.3 66.5 C209.2 68.2 213.1 70.0 217.0 71.8 C220.9 73.5 224.9 75.3 228.8 77.0 C232.7 78.7 236.2 79.7 240.6 81.8 C245.0 83.9 250.8 87.0 255.3 89.5 C259.8 92.0 262.6 94.4 267.6 97.0 C272.6 99.6 280.3 102.7 285.3 105.0 C290.3 107.3 293.2 108.3 297.6 110.8 C302.0 113.3 306.5 117.0 311.8 120.0 C317.1 123.0 324.4 126.3 329.4 128.8 C334.4 131.3 337.4 132.3 341.8 135.0 C346.2 137.7 350.6 140.9 355.9 144.7 C361.2 148.5 368.1 154.0 373.5 157.9 C378.9 161.8 382.8 164.8 388.2 168.0 C393.6 171.2 400.0 174.0 405.9 176.8 C411.8 179.6 417.8 182.1 423.5 184.7 C429.2 187.3 435.0 190.1 440.0 192.4 C445.0 194.7 449.1 196.3 453.7 198.5 C458.3 200.7 462.9 203.1 467.5 205.4 C472.1 207.7 476.6 210.0 481.2 212.3 C485.8 214.6 490.3 216.9 494.9 219.1 C499.5 221.3 504.1 223.4 508.7 225.3 C513.3 227.2 517.8 229.0 522.4 230.8 C527.0 232.6 531.5 234.5 536.1 236.3 C540.7 238.1 545.8 240.2 549.8 241.8 C553.8 243.4 556.4 244.3 560.0 246.0 C563.6 247.7 566.8 249.9 571.3 252.0 C575.8 254.1 581.8 256.3 587.0 258.4 C592.2 260.5 597.5 262.6 602.7 264.7 C607.9 266.8 613.2 268.8 618.4 271.0 C623.6 273.2 629.1 275.9 634.0 278.0 C638.9 280.1 643.2 281.6 648.0 283.5 C652.8 285.4 657.7 287.4 662.8 289.4 C667.9 291.4 673.3 293.9 678.5 295.7 C683.7 297.5 689.0 298.7 694.2 300.4 C699.4 302.1 704.7 304.1 709.9 305.9 C715.1 307.7 719.6 309.7 725.6 311.2 C731.6 312.7 739.7 313.5 745.7 314.9 C751.7 316.3 756.2 317.9 761.4 319.6 C766.6 321.3 771.8 323.3 777.0 325.1 C782.2 326.9 788.0 328.9 792.7 330.6 C797.4 332.3 802.1 334.2 805.3 335.3 C808.4 336.4 808.5 336.3 811.6 336.9 C814.7 337.5 819.0 338.2 824.1 338.9 C829.2 339.6 839.2 340.7 842.2 341.1" stroke="#4486d8" stroke-width="1.6" fill="none" stroke-linejoin="round"/>
<path d="M0.0 11.4 C2.0 11.4 8.5 11.5 12.2 11.7 C15.9 11.9 18.9 12.1 22.0 12.6 C25.1 13.1 27.6 13.7 30.6 14.8 C33.6 15.9 37.2 17.6 40.3 19.0 C43.3 20.4 46.0 21.9 48.9 23.3 C51.8 24.7 54.9 26.2 57.5 27.6 C60.1 29.0 62.6 30.4 64.8 31.9 C67.0 33.4 68.9 35.3 70.9 36.8 C72.9 38.3 75.0 39.8 77.0 41.0 C79.0 42.2 81.1 43.2 83.1 43.9 C85.1 44.6 86.8 44.8 89.2 45.3 C91.7 45.8 95.2 46.7 97.8 47.2 C100.4 47.7 102.4 47.5 104.7 48.4 C107.0 49.3 108.7 50.6 111.8 52.4 C114.9 54.2 119.6 57.2 123.5 59.4 C127.4 61.5 131.4 63.3 135.3 65.3 C139.2 67.3 143.1 69.0 147.0 71.2 C150.9 73.4 154.9 75.6 158.8 78.2 C162.7 80.8 166.5 83.6 170.3 87.0 C174.1 90.4 177.9 94.8 181.8 98.8 C185.8 102.8 190.0 107.6 194.0 111.2 C198.0 114.8 202.0 117.9 205.9 120.6 C209.8 123.3 213.7 125.4 217.6 127.6 C221.5 129.8 225.5 131.5 229.4 133.5 C233.3 135.5 237.8 137.8 241.2 139.4 C244.6 141.0 245.6 141.1 250.0 143.2 C254.4 145.3 261.7 148.5 267.6 151.8 C273.5 155.1 279.9 159.5 285.3 163.2 C290.7 166.9 294.6 170.2 300.0 173.8 C305.4 177.4 311.7 181.6 317.6 184.7 C323.5 187.8 329.4 189.4 335.3 192.6 C341.2 195.8 347.0 200.6 352.9 204.1 C358.8 207.6 364.7 210.9 370.6 213.8 C376.5 216.8 382.3 219.4 388.2 221.8 C394.1 224.2 400.6 226.0 405.9 228.0 C411.2 230.0 415.1 232.1 420.0 234.0 C424.9 235.9 430.4 237.6 435.6 239.4 C440.8 241.2 445.9 243.0 451.1 244.9 C456.3 246.8 461.5 249.2 466.7 251.1 C471.9 253.0 477.0 254.7 482.2 256.5 C487.4 258.3 492.6 260.1 497.8 262.0 C503.0 263.9 508.1 266.2 513.3 268.2 C518.5 270.1 523.7 272.3 528.9 273.7 C534.1 275.1 539.2 275.9 544.4 276.8 C549.6 277.7 555.5 278.3 560.0 279.1 C564.5 279.9 566.8 280.2 571.3 281.5 C575.8 282.8 582.2 285.0 587.0 287.0 C591.8 289.0 595.2 291.1 600.0 293.5 C604.8 295.9 610.5 298.5 615.7 301.2 C620.9 303.9 626.2 307.1 631.4 309.8 C636.6 312.6 641.9 315.2 647.1 317.7 C652.3 320.2 657.6 322.5 662.8 324.7 C668.0 326.9 673.3 329.0 678.5 331.0 C683.7 333.0 689.0 334.4 694.2 336.5 C699.4 338.6 704.7 341.8 709.9 343.6 C715.1 345.4 720.6 346.4 725.6 347.5 C730.6 348.6 734.0 348.8 740.0 350.3 C746.0 351.8 755.2 354.7 761.4 356.5 C767.6 358.3 771.8 359.8 777.0 361.2 C782.2 362.6 788.8 363.8 792.7 364.8 C796.6 365.8 798.0 366.7 800.6 367.3 C803.2 367.9 805.8 368.6 808.4 368.5 C811.0 368.4 812.4 367.5 816.3 366.7 C820.2 365.9 827.5 364.5 832.0 363.5 C836.5 362.5 841.2 361.3 843.0 360.9" stroke="#3c0f18" stroke-width="3.8" fill="none" stroke-linejoin="round" opacity="0.7"/>
<path d="M0.0 11.4 C2.0 11.4 8.5 11.5 12.2 11.7 C15.9 11.9 18.9 12.1 22.0 12.6 C25.1 13.1 27.6 13.7 30.6 14.8 C33.6 15.9 37.2 17.6 40.3 19.0 C43.3 20.4 46.0 21.9 48.9 23.3 C51.8 24.7 54.9 26.2 57.5 27.6 C60.1 29.0 62.6 30.4 64.8 31.9 C67.0 33.4 68.9 35.3 70.9 36.8 C72.9 38.3 75.0 39.8 77.0 41.0 C79.0 42.2 81.1 43.2 83.1 43.9 C85.1 44.6 86.8 44.8 89.2 45.3 C91.7 45.8 95.2 46.7 97.8 47.2 C100.4 47.7 102.4 47.5 104.7 48.4 C107.0 49.3 108.7 50.6 111.8 52.4 C114.9 54.2 119.6 57.2 123.5 59.4 C127.4 61.5 131.4 63.3 135.3 65.3 C139.2 67.3 143.1 69.0 147.0 71.2 C150.9 73.4 154.9 75.6 158.8 78.2 C162.7 80.8 166.5 83.6 170.3 87.0 C174.1 90.4 177.9 94.8 181.8 98.8 C185.8 102.8 190.0 107.6 194.0 111.2 C198.0 114.8 202.0 117.9 205.9 120.6 C209.8 123.3 213.7 125.4 217.6 127.6 C221.5 129.8 225.5 131.5 229.4 133.5 C233.3 135.5 237.8 137.8 241.2 139.4 C244.6 141.0 245.6 141.1 250.0 143.2 C254.4 145.3 261.7 148.5 267.6 151.8 C273.5 155.1 279.9 159.5 285.3 163.2 C290.7 166.9 294.6 170.2 300.0 173.8 C305.4 177.4 311.7 181.6 317.6 184.7 C323.5 187.8 329.4 189.4 335.3 192.6 C341.2 195.8 347.0 200.6 352.9 204.1 C358.8 207.6 364.7 210.9 370.6 213.8 C376.5 216.8 382.3 219.4 388.2 221.8 C394.1 224.2 400.6 226.0 405.9 228.0 C411.2 230.0 415.1 232.1 420.0 234.0 C424.9 235.9 430.4 237.6 435.6 239.4 C440.8 241.2 445.9 243.0 451.1 244.9 C456.3 246.8 461.5 249.2 466.7 251.1 C471.9 253.0 477.0 254.7 482.2 256.5 C487.4 258.3 492.6 260.1 497.8 262.0 C503.0 263.9 508.1 266.2 513.3 268.2 C518.5 270.1 523.7 272.3 528.9 273.7 C534.1 275.1 539.2 275.9 544.4 276.8 C549.6 277.7 555.5 278.3 560.0 279.1 C564.5 279.9 566.8 280.2 571.3 281.5 C575.8 282.8 582.2 285.0 587.0 287.0 C591.8 289.0 595.2 291.1 600.0 293.5 C604.8 295.9 610.5 298.5 615.7 301.2 C620.9 303.9 626.2 307.1 631.4 309.8 C636.6 312.6 641.9 315.2 647.1 317.7 C652.3 320.2 657.6 322.5 662.8 324.7 C668.0 326.9 673.3 329.0 678.5 331.0 C683.7 333.0 689.0 334.4 694.2 336.5 C699.4 338.6 704.7 341.8 709.9 343.6 C715.1 345.4 720.6 346.4 725.6 347.5 C730.6 348.6 734.0 348.8 740.0 350.3 C746.0 351.8 755.2 354.7 761.4 356.5 C767.6 358.3 771.8 359.8 777.0 361.2 C782.2 362.6 788.8 363.8 792.7 364.8 C796.6 365.8 798.0 366.7 800.6 367.3 C803.2 367.9 805.8 368.6 808.4 368.5 C811.0 368.4 812.4 367.5 816.3 366.7 C820.2 365.9 827.5 364.5 832.0 363.5 C836.5 362.5 841.2 361.3 843.0 360.9" stroke="#e85a52" stroke-width="1.6" fill="none" stroke-linejoin="round"/>
<path d="M0 47H861 M0 267H861" stroke="#f3e23c" stroke-width="2.2" fill="none"/>
<circle cx="811.3" cy="336.7" r="5.0" fill="none" stroke="#ffffff" stroke-width="1.6"/>
<circle cx="808.7" cy="368.2" r="5.0" fill="none" stroke="#ffffff" stroke-width="1.6"/>
<polygon points="82.1,40.3 91.9,35.7 88.5,33.2 92.2,28.1 90.4,26.9 86.8,31.9 83.3,29.5" fill="#ffffff"/>
<polygon points="105.1,47.4 114.9,42.7 111.4,40.2 114.4,36.0 112.6,34.8 109.6,39.0 106.2,36.6" fill="#ffffff"/>
<polygon points="257.1,149.0 266.9,144.4 263.5,141.9 267.3,136.6 265.5,135.4 261.7,140.6 258.3,138.2" fill="#ffffff"/>
<polygon points="423.0,233.8 432.7,228.9 429.2,226.6 432.7,221.5 430.8,220.3 427.4,225.3 423.9,223.0" fill="#ffffff"/>
<polygon points="441.3,238.8 451.1,234.1 447.7,231.7 451.4,226.5 449.6,225.3 445.9,230.4 442.5,228.0" fill="#ffffff"/>
<polygon points="454.2,244.7 464.0,239.8 460.5,237.4 463.9,232.4 462.1,231.1 458.7,236.2 455.2,233.9" fill="#ffffff"/>
<polygon points="467.6,250.0 477.3,245.1 473.9,242.8 477.2,237.8 475.4,236.6 472.0,241.5 468.6,239.2" fill="#ffffff"/>
<polygon points="478.0,253.8 487.7,248.9 484.2,246.6 487.7,241.5 485.8,240.3 482.4,245.3 478.9,243.0" fill="#ffffff"/>
<polygon points="527.0,272.0 536.7,267.0 533.2,264.7 536.5,259.6 534.7,258.4 531.3,263.5 527.8,261.2" fill="#ffffff"/>
<polygon points="535.3,273.5 545.0,268.6 541.5,266.2 544.7,261.5 542.9,260.3 539.7,265.0 536.2,262.7" fill="#ffffff"/>
<polygon points="624.1,310.9 633.8,306.1 630.4,303.7 634.1,298.2 632.3,297.0 628.6,302.4 625.1,300.1" fill="#ffffff"/>
<polygon points="717.0,330.2 726.7,325.4 723.3,323.0 726.8,317.8 725.0,316.6 721.5,321.7 718.0,319.4" fill="#ffffff"/>
<polygon points="740.0,336.4 749.8,331.7 746.4,329.3 750.1,324.0 748.3,322.8 744.6,328.0 741.2,325.6" fill="#ffffff"/>
<g font-family="Liberation Serif, serif" font-style="italic" font-weight="bold" font-size="11.2" fill="#d6e15a" stroke="#d6e15a" stroke-width="0.25"><text x="7.4" y="9.8">H<tspan font-size="8.4" dx="-0.3">1</tspan></text><text x="22" y="9.8">-</text><text x="28.6" y="9.8" textLength="39.8" lengthAdjust="spacingAndGlyphs">EUR/USD</text><text x="70" y="9.8" textLength="28.6" lengthAdjust="spacingAndGlyphs">hourly</text></g>
<rect x="861" y="0" width="39" height="510" fill="#161a25"/>
<rect x="0" y="492" width="900" height="18" fill="#161a25"/>
<path d="M861.5 0V510 M0 492.5H900" stroke="#2a2e39" stroke-width="1" fill="none"/>
<text class="ax" x="867.5" y="6.0">1.10400</text><text class="ax" x="867.5" y="28.0">1.10200</text><text class="ax" x="867.5" y="72.0">1.09800</text><text class="ax" x="867.5" y="94.0">1.09600</text><text class="ax" x="867.5" y="116.0">1.09400</text><text class="ax" x="867.5" y="138.0">1.09200</text><text class="ax" x="867.5" y="160.0">1.09000</text><text class="ax" x="867.5" y="182.0">1.08800</text><text class="ax" x="867.5" y="204.0">1.08600</text><text class="ax" x="867.5" y="226.0">1.08400</text><text class="ax" x="867.5" y="248.0">1.08200</text><text class="ax" x="867.5" y="292.0">1.07800</text><text class="ax" x="867.5" y="314.0">1.07600</text><text class="ax" x="867.5" y="336.0">1.07400</text><text class="ax" x="867.5" y="358.0">1.07200</text><text class="ax" x="867.5" y="380.0">1.07000</text><text class="ax" x="867.5" y="402.0">1.06800</text><text class="ax" x="867.5" y="424.0">1.06600</text><text class="ax" x="867.5" y="446.0">1.06400</text><text class="ax" x="867.5" y="468.0">1.06200</text><text class="ax" x="867.5" y="490.0">1.06000</text>
<rect x="862" y="41.3" width="38" height="11.5" fill="#f5e53a"/>
<text class="ax" x="867.5" y="50.0" style="fill:#2a2a10;stroke:#2a2a10;stroke-width:0.2px">1.10000</text>
<rect x="862" y="261.3" width="38" height="11.5" fill="#f5e53a"/>
<text class="ax" x="867.5" y="270.0" style="fill:#2a2a10;stroke:#2a2a10;stroke-width:0.2px">1.08000</text>
<rect x="862" y="292" width="38" height="11.5" fill="#26a69a"/>
<text class="ax" x="867.5" y="300.8" style="fill:#ffffff;stroke:#ffffff;stroke-width:0.3px">1.07725</text>
<text class="ax" x="43" y="504.1" text-anchor="middle">10</text><text class="ax" x="110.7" y="504.1" text-anchor="middle">12:00</text><text class="ax" x="188" y="504.1" text-anchor="middle">15</text><text class="ax" x="269.5" y="504.1" text-anchor="middle">17</text><text class="ax" x="337.3" y="504.1" text-anchor="middle">12:00</text><text class="ax" x="414.3" y="504.1" text-anchor="middle">22</text><text class="ax" x="496" y="504.1" text-anchor="middle">24</text><text class="ax" x="564.3" y="504.1" text-anchor="middle">12:00</text><text class="ax" x="641.5" y="504.1" text-anchor="middle">29</text><text class="ax" x="700.5" y="504.1" text-anchor="middle">12:00</text><text class="ax" x="768" y="504.1" text-anchor="middle" style="font-weight:bold;font-size:8.8px">Jun</text><text class="ax" x="858.7" y="504.1" text-anchor="middle">3</text>
<g transform="translate(883.3,502.2)" fill="none" stroke="#a9acb6" stroke-width="1.1"><polygon points="-5.2,0 -2.6,-4.5 2.6,-4.5 5.2,0 2.6,4.5 -2.6,4.5"/><circle r="1.9"/></g><circle cx="883.3" cy="502.2" r="0.5" fill="#a9acb6"/>
<g fill="#e0e0e8" stroke="#161a25" stroke-width="2.2" paint-order="stroke"><path d="M7.2 471.8H15V482H11V475H7.2Z"/><circle cx="18.6" cy="473.7" r="2.0"/><path d="M22.4 471.8H27.6L23.9 482H19Z"/></g>
<rect x="31.5" y="473.5" width="87" height="4" fill="#161a25"/>
<text x="33" y="482" font-family="Liberation Sans, Arial, sans-serif" font-size="13.8" textLength="83.5" lengthAdjust="spacingAndGlyphs" fill="#e0e0e8" stroke="#e0e0e8" stroke-width="0.55">TradingView</text>
</svg></body></html>
